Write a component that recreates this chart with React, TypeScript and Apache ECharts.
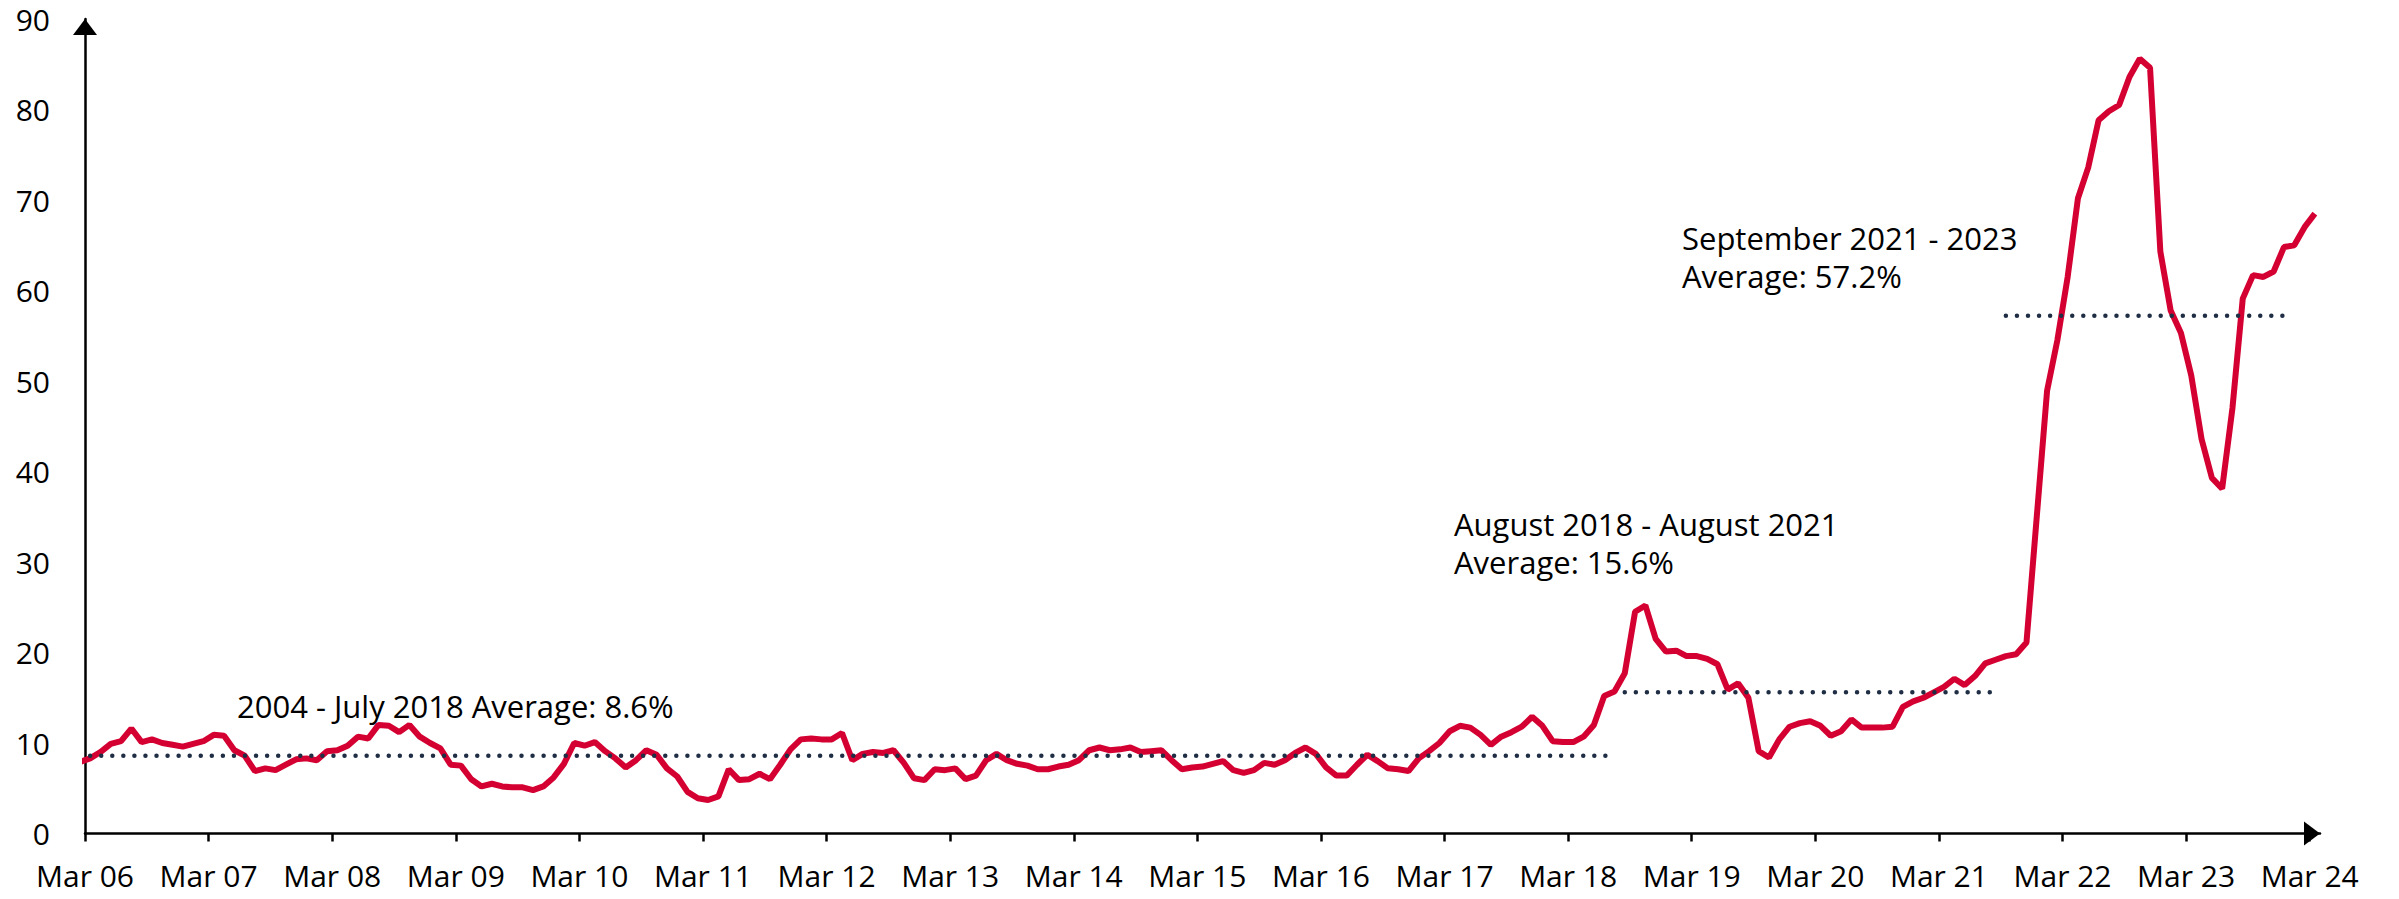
import React, { useEffect, useRef } from 'react';
import * as echarts from 'echarts';

// Year tick labels (one every 12 months, starting Mar 2006)
const xTickLabels = [
  'Mar 06', 'Mar 07', 'Mar 08', 'Mar 09', 'Mar 10', 'Mar 11', 'Mar 12', 'Mar 13', 'Mar 14', 'Mar 15',
  'Mar 16', 'Mar 17', 'Mar 18', 'Mar 19', 'Mar 20', 'Mar 21', 'Mar 22', 'Mar 23', 'Mar 24',
];

// Month before the first visible month (Feb 06), clipped at the axis
const leadValue = 7.9;

// Monthly values, Mar 2006 .. Mar 2024 (one row per year, Mar..Feb)
const rateValues = [
  8.3, 9.0, 9.9, 10.2, 11.6, 10.1, 10.4, 10.0, 9.8, 9.6, 9.9, 10.2,
  10.9, 10.8, 9.2, 8.6, 6.9, 7.2, 7.0, 7.6, 8.2, 8.3, 8.1, 9.1,
  9.2, 9.7, 10.7, 10.5, 12.0, 11.9, 11.2, 12.0, 10.7, 10.0, 9.4, 7.6,
  7.5, 6.0, 5.2, 5.5, 5.2, 5.1, 5.1, 4.8, 5.2, 6.2, 7.7, 10.0,
  9.7, 10.1, 9.1, 8.3, 7.3, 8.1, 9.2, 8.7, 7.2, 6.3, 4.6, 3.9,
  3.7, 4.1, 7.1, 5.9, 6.0, 6.6, 6.0, 7.6, 9.3, 10.4, 10.5, 10.4,
  10.4, 11.1, 8.1, 8.8, 9.0, 8.9, 9.2, 7.8, 6.1, 5.9, 7.1, 7.0,
  7.2, 6.0, 6.4, 8.1, 8.8, 8.1, 7.7, 7.5, 7.1, 7.1, 7.4, 7.6,
  8.1, 9.2, 9.5, 9.2, 9.3, 9.5, 9.0, 9.1, 9.2, 8.1, 7.1, 7.3,
  7.4, 7.7, 8.0, 7.0, 6.7, 7.0, 7.8, 7.6, 8.1, 8.9, 9.5, 8.8,
  7.3, 6.4, 6.4, 7.6, 8.7, 8.0, 7.2, 7.1, 6.9, 8.3, 9.1, 10.0,
  11.3, 11.9, 11.7, 10.9, 9.8, 10.7, 11.2, 11.8, 12.9, 11.9, 10.2, 10.1,
  10.1, 10.7, 12.0, 15.2, 15.7, 17.7, 24.5, 25.2, 21.5, 20.1, 20.2, 19.6,
  19.6, 19.3, 18.7, 15.9, 16.6, 15.0, 9.1, 8.4, 10.4, 11.8, 12.2, 12.4,
  11.9, 10.8, 11.3, 12.6, 11.7, 11.7, 11.7, 11.8, 14.0, 14.6, 15.0, 15.6,
  16.2, 17.1, 16.4, 17.4, 18.8, 19.2, 19.6, 19.8, 21.1, 35.0, 48.9, 54.5,
  61.5, 70.2, 73.6, 78.8, 79.8, 80.5, 83.6, 85.6, 84.6, 64.3, 57.8, 55.3,
  50.6, 43.6, 39.3, 38.1, 47.0, 59.1, 61.7, 61.5, 62.1, 64.8, 65.0, 67.0,
  68.5,
];

// Period averages (month index from Mar 06)
const avgValues = [8.6, 15.6, 57.2];
const avgStart = [0, 149, 186];
const avgEnd = [148, 185, 213];
const avgNoteLines = [
  ['2004 - July 2018 Average: 8.6%'],
  ['August 2018 - August 2021', 'Average: 15.6%'],
  ['September 2021 - 2023', 'Average: 57.2%'],
];

const FONT = "'Open Sans', sans-serif";
const notePos = [
  [237, 706],
  [1454, 524],
  [1682, 237.5],
];

export default function App() {
  const ref = useRef<HTMLDivElement>(null);

  useEffect(() => {
    if (!ref.current) return;
    const chart = echarts.init(ref.current, null, { renderer: 'svg' });
    const tickPositions = xTickLabels.map((_, i) => i * 12);
    const lineData = [[-0.5, leadValue], ...rateValues.map((v, i) => [i + 0.5, v])];

    const avgSeries = avgValues.map((v, i) => ({
      type: 'line',
      data: [
        [avgStart[i] + 0.5, v],
        [avgEnd[i] + 0.5, v],
      ],
      symbol: 'none',
      silent: true,
      lineStyle: { color: '#1f2e45', width: 4.5, type: [0.01, 11.05], cap: 'round' },
    }));

    const graphics: any[] = [];
    avgNoteLines.forEach((lines, i) => {
      lines.forEach((t, j) => {
        graphics.push({
          type: 'text',
          x: notePos[i][0],
          y: notePos[i][1] + j * 38,
          style: {
            text: t,
            fontSize: 31,
            fontFamily: FONT,
            fill: '#000',
            align: 'left',
            verticalAlign: 'middle',
          },
        });
      });
    });

    const axisLine = {
      show: true,
      lineStyle: { color: '#000', width: 2.5 },
      symbol: ['none', 'triangle'],
      symbolSize: [24, 16],
      symbolOffset: [0, -8],
    };

    chart.setOption({
      animation: false,
      grid: { left: 85, right: 79, top: 19, bottom: 65.5, containLabel: false },
      xAxis: {
        type: 'value',
        min: 0,
        max: 217,
        axisLine,
        axisTick: {
          show: true,
          length: 8,
          lineStyle: { color: '#000', width: 2.5 },
          customValues: tickPositions,
        },
        axisLabel: {
          customValues: tickPositions,
          formatter: (v: number) => xTickLabels[Math.round(v / 12)] ?? '',
          fontSize: 30,
          lineHeight: 30,
          fontFamily: FONT,
          color: '#000',
          margin: 27,
        },
        splitLine: { show: false },
      },
      yAxis: {
        type: 'value',
        min: 0,
        max: 90,
        interval: 10,
        axisLine,
        axisTick: { show: false },
        axisLabel: { fontSize: 30, fontFamily: FONT, color: '#000', margin: 35 },
        splitLine: { show: false },
      },
      series: [
        {
          type: 'line',
          data: lineData,
          symbol: 'none',
          clip: true,
          lineStyle: { color: '#d50032', width: 6 },
        },
        ...avgSeries,
      ],
      graphic: graphics,
    });

    return () => chart.dispose();
  }, []);

  return (
    <div
      ref={ref}
      style={{ position: 'absolute', left: 0, top: 0, width: 2399, height: 899, background: '#fff' }}
    />
  );
}
